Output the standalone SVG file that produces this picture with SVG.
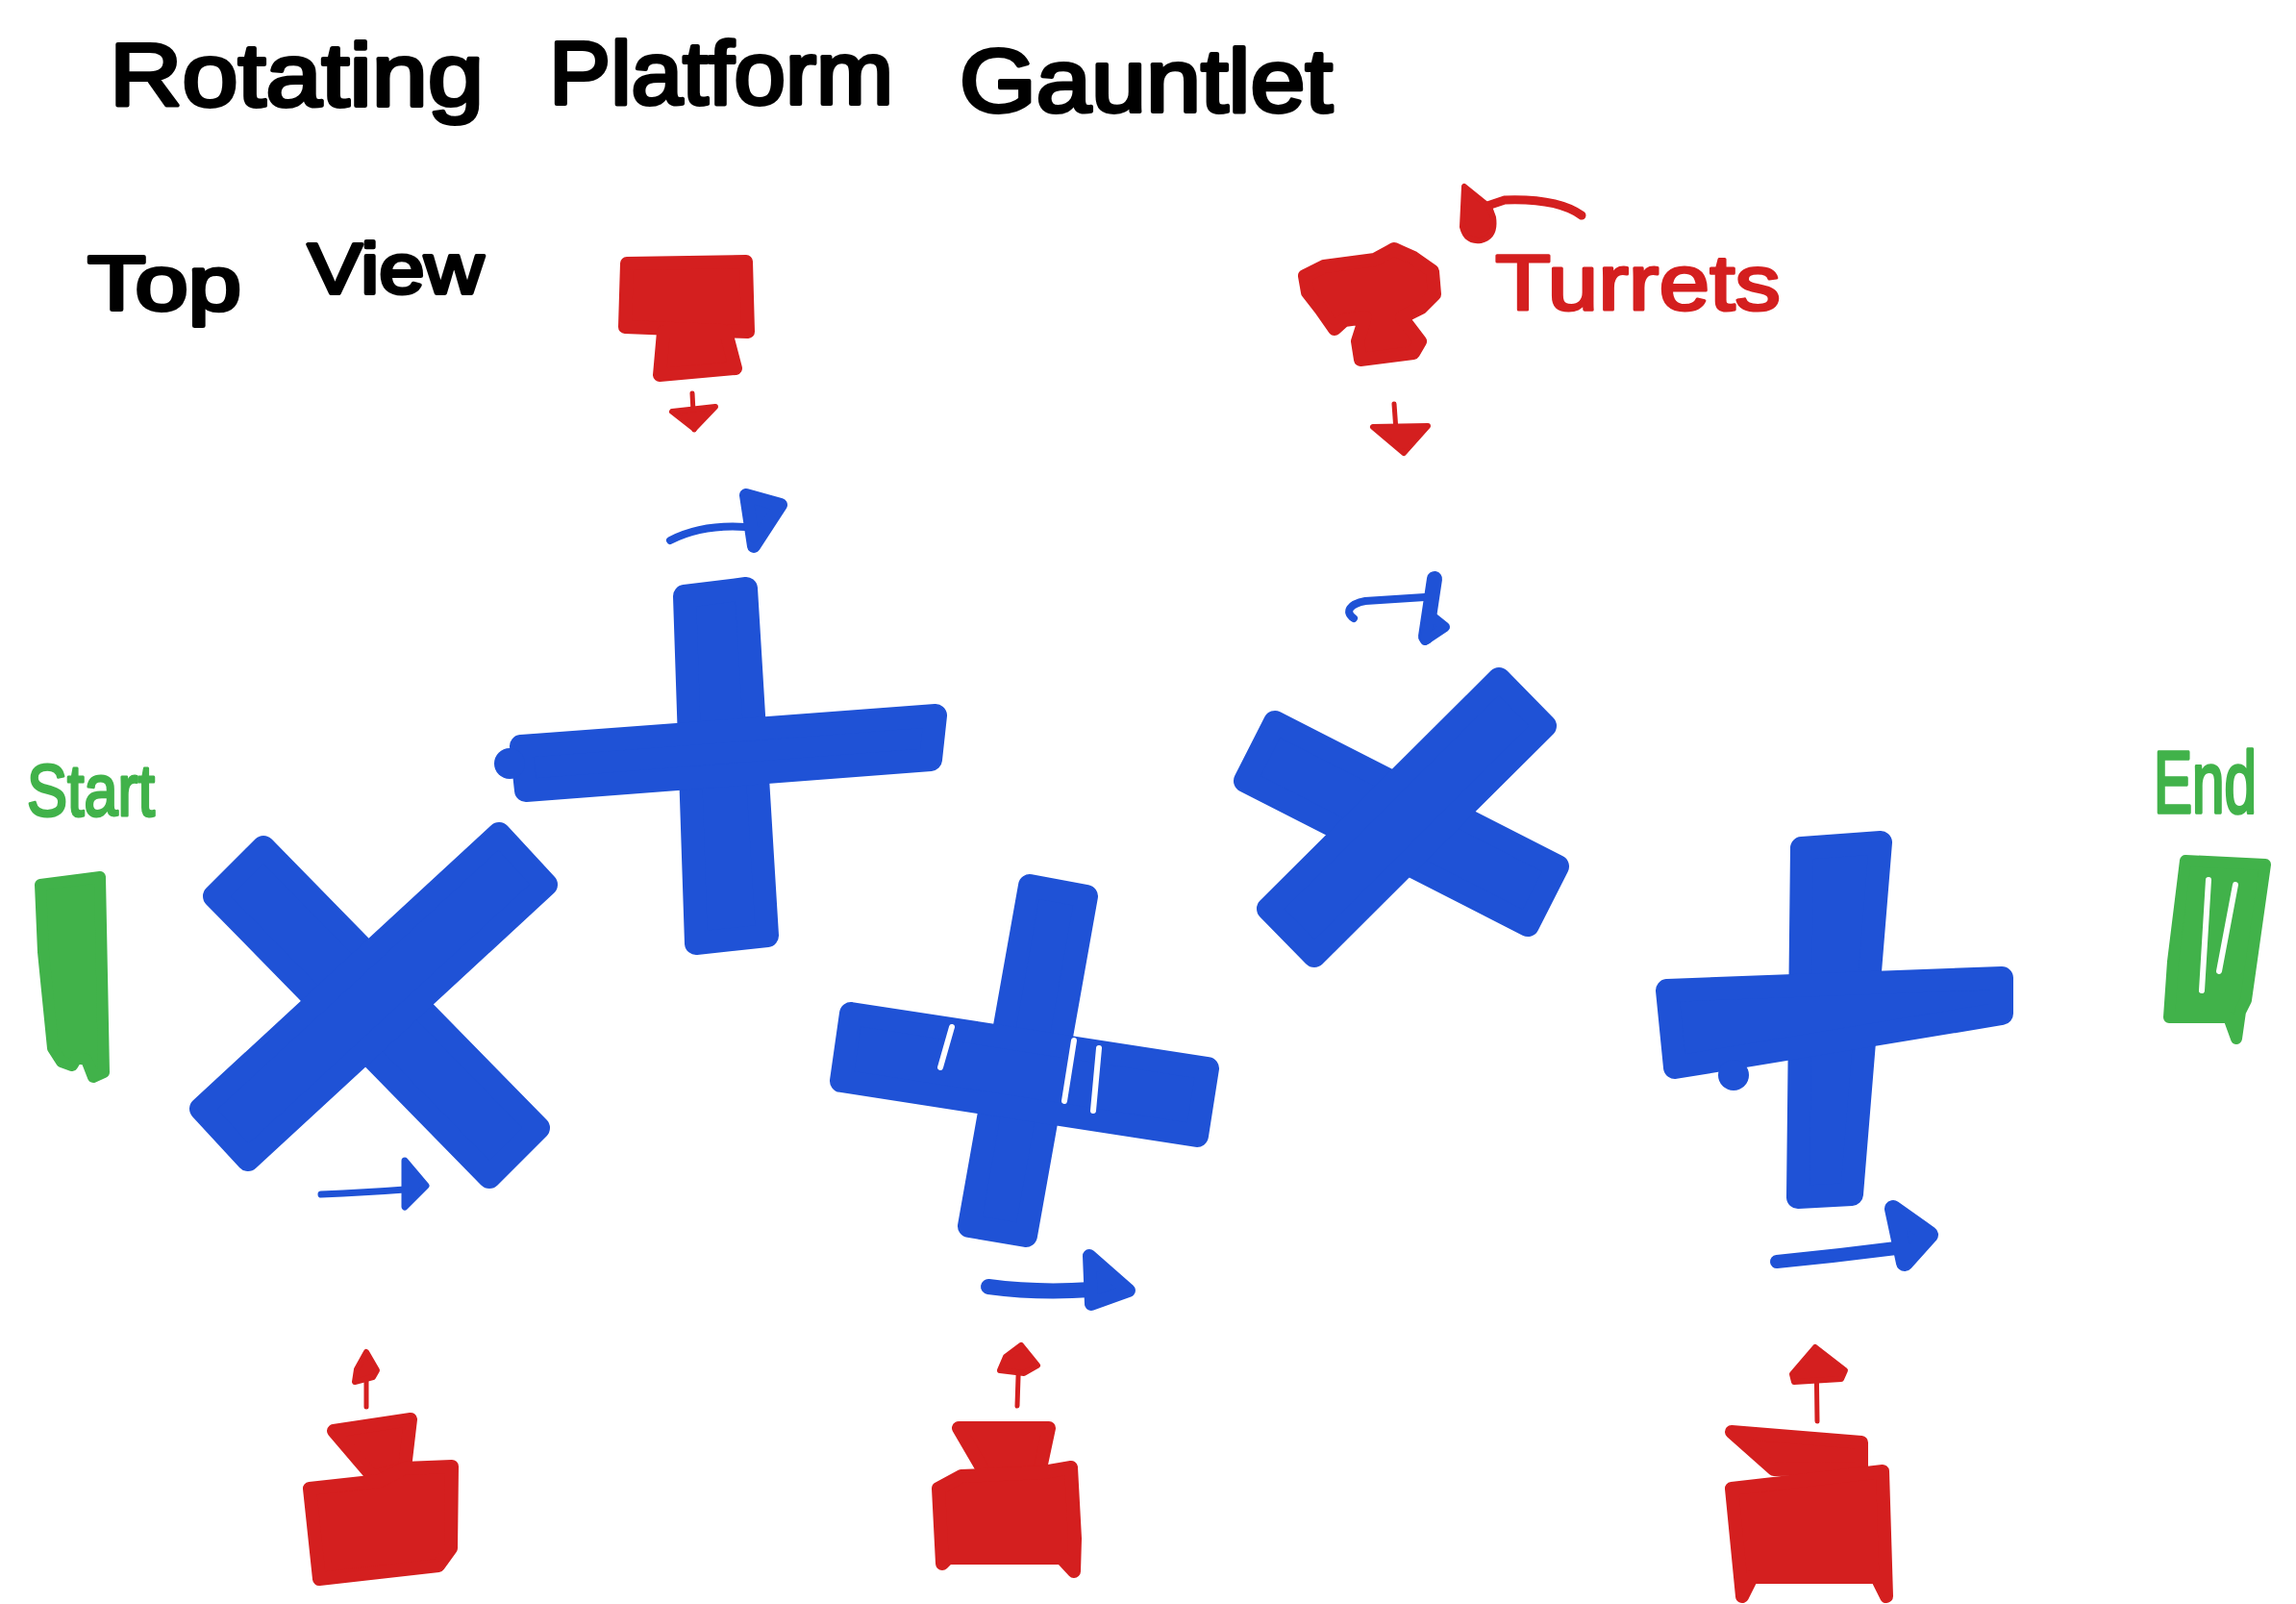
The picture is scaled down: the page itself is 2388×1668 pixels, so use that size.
<svg xmlns="http://www.w3.org/2000/svg" width="2388" height="1668" viewBox="0 0 2388 1668">
<style>
.hand{font-family:"Liberation Sans","DejaVu Sans",sans-serif;stroke-linejoin:round}
.ink{fill:#000;stroke:#000;stroke-width:4}
.rtxt{fill:#d41f1f;stroke:#d41f1f;stroke-width:3}
.gtxt{fill:#41b24a;stroke:#41b24a;stroke-width:3}
.plat{fill:#1f52d6;stroke:#1f52d6;stroke-width:24;stroke-linejoin:round}
.gap{fill:none;stroke:#fff;stroke-width:6;stroke-linecap:round}
.turret{fill:#d41f1f;stroke:#d41f1f;stroke-width:14;stroke-linejoin:round}
.goal{fill:#41b24a;stroke:#41b24a;stroke-width:12;stroke-linejoin:round}
.bline{fill:none;stroke:#1f52d6;stroke-linecap:round}
.bhead{fill:#1f52d6;stroke:#1f52d6;stroke-linejoin:round}
.rline{fill:none;stroke:#d41f1f;stroke-linecap:round}
.rhead{fill:#d41f1f;stroke:#d41f1f;stroke-linejoin:round;stroke-width:6}
</style>
<rect width="2388" height="1668" fill="#fff"/>

<g id="title">
<text class="hand ink" x="114" y="110" font-size="92" textLength="389" lengthAdjust="spacingAndGlyphs">Rotating</text>
<text class="hand ink" x="571" y="108" font-size="92" textLength="358" lengthAdjust="spacingAndGlyphs">Platform</text>
<text class="hand ink" x="998" y="116" font-size="92" textLength="388" lengthAdjust="spacingAndGlyphs">Gauntlet</text>
</g>
<g id="subtitle">
<text class="hand ink" x="91" y="322" font-size="80" textLength="160" lengthAdjust="spacingAndGlyphs">Top</text>
<text class="hand ink" x="320" y="305" font-size="75" textLength="183" lengthAdjust="spacingAndGlyphs">View</text>
</g>

<g id="start">
<text class="hand gtxt" x="28" y="848" font-size="76" textLength="133" lengthAdjust="spacingAndGlyphs">Start</text>
<polygon class="goal" points="42,920 104,912 108,1115 97,1120 90,1102 80,1100 75,1108 64,1104 55,1090 45,990"/>
</g>

<g id="end">
<text class="hand gtxt" transform="translate(2240,845) scale(1,1.22)" x="0" y="0" font-size="74" textLength="107" lengthAdjust="spacingAndGlyphs">End</text>
<polygon class="goal" points="2273,895 2356,899 2336,1040 2330,1052 2326,1080 2318,1058 2256,1058 2260,1000"/>
<path class="gap" d="M2297,915 L2290,1030 M2325,920 L2308,1010"/>
</g>

<g id="platform1">
<polygon class="plat" points="223,932 274,881 560,1173 509,1224"/>
<polygon class="plat" points="258,1206 209,1153 519,867 568,920"/>
</g>

<g id="platform2">
<polygon class="plat" points="712,620 776,612 798,973 724,981"/>
<polygon class="plat" points="542,776 973,744 968,790 547,822"/>
<circle cx="530" cy="794" r="16" fill="#1f52d6"/>
</g>

<g id="platform3">
<polygon class="plat" points="1071,921 1130,932 1067,1285 1008,1275"/>
<polygon class="plat" points="885,1054 1256,1111 1245,1181 875,1124"/>
<path class="gap" d="M1117,1082 L1107,1145 M1143,1090 L1137,1155 M990,1068 L978,1110"/>
</g>

<g id="platform4">
<polygon class="plat" points="1295,812 1326,751 1620,901 1589,962"/>
<polygon class="plat" points="1367,994 1319,945 1559,706 1607,755"/>
</g>

<g id="platform5">
<polygon class="plat" points="1874,882 1956,876 1926,1242 1870,1245"/>
<polygon class="plat" points="1734,1030 2082,1017 2082,1054 1742,1110"/>
<circle cx="1803" cy="1118" r="16" fill="#1f52d6"/>
</g>

<g id="turret-top1">
<polygon class="turret" points="652,274 776,272 778,345 650,340"/>
<polygon class="turret" points="690,345 755,345 765,383 686,390"/>
</g>

<g id="turret-top2">
<polygon class="turret" points="1357,287 1377,277 1430,270 1450,259 1470,268 1490,282 1492,306 1478,320 1458,330 1477,355 1470,367 1415,374 1412,355 1420,330 1398,333 1388,342 1374,322 1360,304"/>
</g>

<g id="turret-bottom1">
<polygon class="turret" points="347,1488 427,1476 421,1527 388,1536"/>
<polygon class="turret" points="322,1548 395,1540 420,1527 470,1525 469,1610 456,1628 332,1642"/>
</g>

<g id="turret-bottom2">
<polygon class="turret" points="997,1485 1091,1485 1081,1532 1025,1533"/>
<polygon class="turret" points="976,1548 1000,1535 1085,1531 1114,1526 1118,1600 1117,1634 1104,1620 986,1620 980,1626"/>
</g>

<g id="turret-bottom3">
<polygon class="turret" points="1801,1489 1936,1500 1936,1527 1845,1528"/>
<polygon class="turret" points="1801,1548 1958,1530 1962,1660 1952,1640 1822,1640 1812,1660"/>
</g>

<g id="label-turrets">
<text class="hand rtxt" x="1555" y="322" font-size="82" textLength="297" lengthAdjust="spacingAndGlyphs">Turrets</text>
</g>

<g id="connectors">
<path class="bline" stroke-width="8" d="M697,562 Q730,545 775,548"/>
<polygon class="bhead" stroke-width="14" points="776,515 812,525 784,568"/>

<path class="bline" stroke-width="8" d="M1408,643 C1398,636 1404,628 1420,625 L1482,621"/>
<path class="bline" stroke-width="16" d="M1492,602 L1483,662"/>
<polygon class="bhead" stroke-width="10" points="1488,640 1503,652 1482,666"/>

<path class="bline" stroke-width="7" d="M334,1242 Q380,1240 421,1237"/>
<polygon class="bhead" stroke-width="7" points="421,1207 443,1233 421,1255"/>

<path class="bline" stroke-width="16" d="M1028,1338 Q1080,1345 1135,1341"/>
<polygon class="bhead" stroke-width="14" points="1133,1306 1174,1342 1135,1356"/>

<path class="bline" stroke-width="14" d="M1848,1312 Q1910,1306 1972,1298"/>
<polygon class="bhead" stroke-width="18" points="1969,1257 2007,1284 1981,1313"/>

<path class="rline" stroke-width="5" d="M720,409 L722,447"/>
<polygon class="rhead" points="699,428 744,423 722,446"/>

<path class="rline" stroke-width="5" d="M1450,420 L1452,448"/>
<polygon class="rhead" points="1428,444 1485,443 1460,471"/>

<path class="rline" stroke-width="5" d="M381,1463 L381,1410"/>
<polygon class="rhead" points="381,1406 392,1425 388,1432 369,1437 371,1424"/>

<path class="rline" stroke-width="5" d="M1058,1462 L1060,1402"/>
<polygon class="rhead" points="1062,1399 1079,1420 1065,1428 1040,1425 1046,1411"/>

<path class="rline" stroke-width="5" d="M1890,1478 L1889,1404"/>
<polygon class="rhead" points="1888,1401 1919,1425 1915,1434 1866,1437 1864,1429"/>

<path class="rline" stroke-width="9" d="M1645,224 Q1620,206 1565,208 L1547,214"/>
<path class="rhead" stroke-width="10" d="M1549,215 L1523,194 L1521,236 Q1525,252 1540,250 Q1556,246 1553,226 Z"/>
</g>
</svg>
